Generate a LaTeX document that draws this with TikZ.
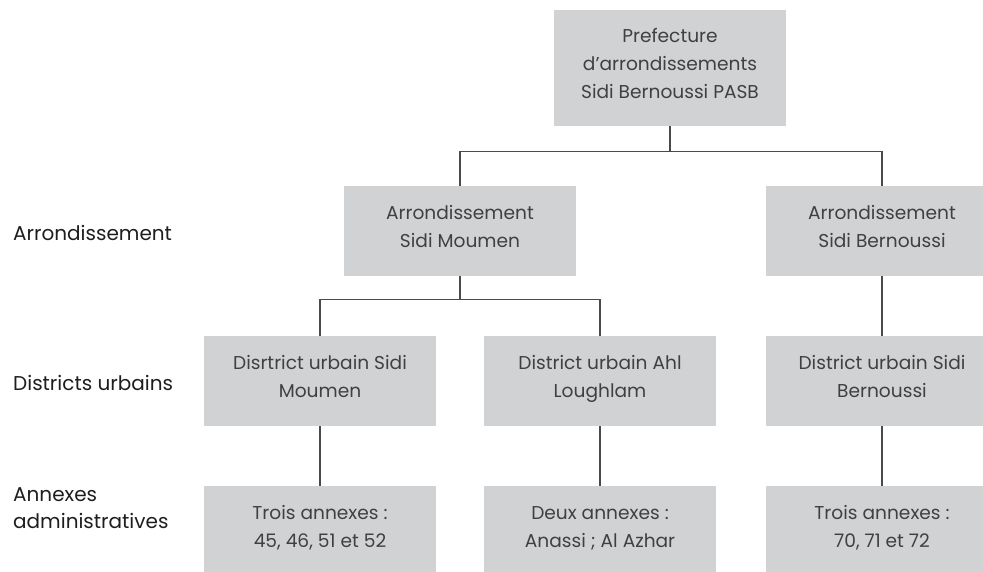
\documentclass[tikz,border=0pt]{standalone}
\usepackage{fontspec}
\setmainfont{Poppins}
\definecolor{boxgray}{HTML}{D1D2D4}
\definecolor{boxtext}{HTML}{404040}
\definecolor{labeltext}{HTML}{1E1E1E}
\definecolor{linegray}{HTML}{4A4A4A}
\tikzset{
  orgbox/.style={fill=boxgray, minimum width=232, minimum height=90, inner sep=0pt,
    align=center, text=boxtext, font=\fontsize{18.6}{28}\selectfont,
    execute at begin node=\strut, execute at end node=\strut},
  rowlabel/.style={anchor=base west, inner sep=0pt, align=left, text=labeltext,
    font=\fontsize{20}{27}\selectfont},
  link/.style={draw=linegray, line width=1.1pt}
}
\begin{document}
\begin{tikzpicture}[x=1pt,y=-1pt]
\useasboundingbox (0,0) rectangle (983,571);
\clip (0,0) rectangle (983,571);
% boxes
\node[orgbox, minimum height=116] (pref) at (670,68) {Prefecture\\d’arrondissements\\Sidi Bernoussi PASB};
\node[orgbox] (arrSM) at (460,231) {Arrondissement\\Sidi Moumen};
\node[orgbox] (arrSB) at (882,231) {Arrondissement\\Sidi Bernoussi};
\node[orgbox] (dSM) at (320,381) {Disrtrict urbain Sidi\\Moumen};
\node[orgbox] (dAL) at (600,381) {District urbain Ahl\\Loughlam};
\node[orgbox] (dSB) at (882,381) {District urbain Sidi\\Bernoussi};
\node[orgbox] (aSM) at (320,531) {Trois annexes :\\45, 46, 51 et 52};
\node[orgbox] (aAL) at (600,531) {Deux annexes :\\Anassi ; Al Azhar};
\node[orgbox] (aSB) at (882,531) {Trois annexes :\\70, 71 et 72};
% row labels
\node[rowlabel] (lArr) at (13,240) {Arrondissement};
\node[rowlabel] (lDist) at (13,390) {Districts urbains};
\node[rowlabel] (lAnn) at (13,528) {Annexes\\administratives};
% connectors
\draw[link] (pref.south) -- ++(0,25) -| (arrSM.north);
\draw[link] (pref.south) -- ++(0,25) -| (arrSB.north);
\draw[link] (arrSM.south) -- ++(0,23) -| (dSM.north);
\draw[link] (arrSM.south) -- ++(0,23) -| (dAL.north);
\draw[link] (arrSB.south) -- (dSB.north);
\draw[link] (dSM.south) -- (aSM.north);
\draw[link] (dAL.south) -- (aAL.north);
\draw[link] (dSB.south) -- (aSB.north);
\end{tikzpicture}
\end{document}
